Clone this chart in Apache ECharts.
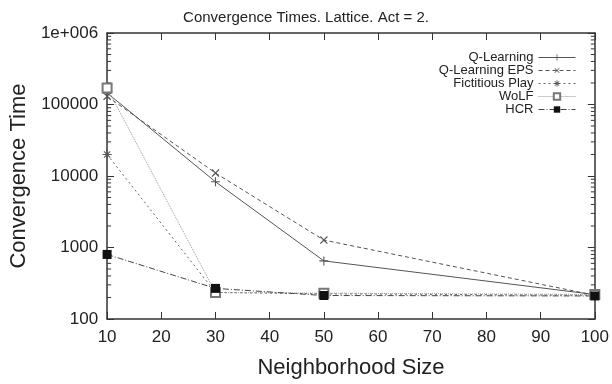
<!DOCTYPE html>
<html>
<head>
<meta charset="utf-8">
<script src="https://cdn.jsdelivr.net/npm/echarts@6/dist/echarts.min.js"></script>
<style>
html, body { margin: 0; padding: 0; background: #fff; }
#main { width: 612px; height: 384px; }
</style>
</head>
<body>
<div id="main"></div>
<script>
var neighborhood = [10, 30, 50, 100];
var qLearning = [145000, 8300, 650, 220];
var qLearningEps = [130000, 11000, 1270, 215];
var fictitiousPlay = [20000, 235, 225, 215];
var wolf = [170000, 235, 230, 220];
var hcr = [800, 268, 213, 210];
var seriesNames = ['Q-Learning', 'Q-Learning EPS', 'Fictitious Play', 'WoLF', 'HCR'];
// gnuplot style minor ticks on the log axis (2..9 per decade)
var decades = [100, 1000, 10000, 100000];
var minorSteps = [2, 3, 4, 5, 6, 7, 8, 9];

var minorTicks = [];
decades.forEach(function (d) {
    minorSteps.forEach(function (m) { minorTicks.push([10, d * m]); });
});

function pairs(vals) {
    return vals.map(function (v, i) { return [neighborhood[i], v]; });
}

var plusPath = 'path://M-0.6,-5H0.6V-0.6H5V0.6H0.6V5H-0.6V0.6H-5V-0.6H-0.6Z';
var starPath = 'path://M-0.6,-5H0.6V-0.6H5V0.6H0.6V5H-0.6V0.6H-5V-0.6H-0.6Z' +
    'M-3.9,-3.1L-3.1,-3.9L0,-0.8L3.1,-3.9L3.9,-3.1L0.8,0L3.9,3.1L3.1,3.9L0,0.8L-3.1,3.9L-3.9,3.1L-0.8,0Z';

var myChart = echarts.init(document.getElementById('main'));
var font = 'Liberation Sans, Arial, sans-serif';

var option = {
    backgroundColor: '#fff',
    animation: false,
    title: {
        text: 'Convergence Times. Lattice. Act = 2.',
        left: 'center',
        top: 5,
        textStyle: { fontFamily: font, fontSize: 15, fontWeight: 'normal', color: '#222' }
    },
    legend: {
        data: seriesNames,
        orient: 'vertical',
        right: 31,
        top: 46,
        align: 'right',
        itemWidth: 37,
        itemHeight: 8,
        itemGap: 0,
        lineStyle: { width: 1 },
        textStyle: { fontFamily: font, fontSize: 13, color: '#222' }
    },
    grid: { left: 106, right: 11, top: 33, bottom: 61 },
    xAxis: [{
        type: 'value',
        min: 10,
        max: 100,
        interval: 10,
        name: 'Neighborhood Size',
        nameLocation: 'middle',
        nameGap: 38,
        nameTextStyle: { fontFamily: font, fontSize: 22, color: '#222' },
        axisLine: { lineStyle: { color: '#333', width: 1.5 } },
        axisTick: { inside: true, length: 7, lineStyle: { color: '#333' } },
        axisLabel: { fontFamily: font, fontSize: 17, color: '#222', margin: 10 },
        splitLine: { show: false }
    }, {
        type: 'value',
        position: 'top',
        min: 10,
        max: 100,
        interval: 10,
        axisLine: { lineStyle: { color: '#333', width: 1.5 } },
        axisTick: { inside: true, length: 7, lineStyle: { color: '#333' } },
        axisLabel: { show: false },
        splitLine: { show: false }
    }],
    yAxis: [{
        type: 'log',
        logBase: 10,
        min: 100,
        max: 1000000,
        name: 'Convergence Time',
        nameLocation: 'middle',
        nameGap: 73,
        nameTextStyle: { fontFamily: font, fontSize: 22, color: '#222' },
        axisLine: { lineStyle: { color: '#333', width: 1.5 } },
        axisTick: { inside: true, length: 7, lineStyle: { color: '#333' } },
        axisLabel: {
            fontFamily: font, fontSize: 17, color: '#222', margin: 9,
            formatter: function (v) { return v >= 1000000 ? '1e+006' : String(Math.round(v)); }
        },
        splitLine: { show: false }
    }, {
        type: 'log',
        logBase: 10,
        position: 'right',
        min: 100,
        max: 1000000,
        axisLine: { lineStyle: { color: '#333', width: 1.5 } },
        axisTick: { inside: true, length: 7, lineStyle: { color: '#333' } },
        axisLabel: { show: false },
        splitLine: { show: false }
    }],
    series: [
        {
            name: 'Q-Learning',
            type: 'line',
            data: pairs(qLearning),
            symbol: plusPath,
            symbolSize: 9,
            itemStyle: { color: '#555' },
            lineStyle: { color: '#555', width: 1, type: 'solid' }
        },
        {
            name: 'Q-Learning EPS',
            type: 'line',
            data: pairs(qLearningEps),
            symbol: plusPath,
            symbolRotate: 45,
            symbolSize: 10,
            itemStyle: { color: '#555' },
            lineStyle: { color: '#555', width: 1, type: [4, 3] }
        },
        {
            name: 'Fictitious Play',
            type: 'line',
            data: pairs(fictitiousPlay),
            symbol: starPath,
            symbolSize: 9,
            itemStyle: { color: '#555' },
            lineStyle: { color: '#666', width: 1, type: [2, 3] }
        },
        {
            name: 'WoLF',
            type: 'line',
            data: pairs(wolf),
            symbol: 'emptyRect',
            symbolSize: 9,
            itemStyle: { color: '#777', borderWidth: 1 },
            lineStyle: { color: '#999', width: 1, type: [1, 1] }
        },
        {
            name: 'HCR',
            type: 'line',
            data: pairs(hcr),
            symbol: 'rect',
            symbolSize: 9,
            itemStyle: { color: '#111' },
            lineStyle: { color: '#444', width: 1, type: [6, 2, 1, 2] }
        },
        {
            name: 'minor',
            type: 'custom',
            silent: true,
            data: minorTicks,
            renderItem: function (params, api) {
                var v = api.value(1);
                var l = api.coord([10, v]);
                var r = api.coord([100, v]);
                return {
                    type: 'group',
                    children: [
                        { type: 'line', shape: { x1: l[0], y1: l[1], x2: l[0] + 4, y2: l[1] }, style: { stroke: '#333', lineWidth: 1 } },
                        { type: 'line', shape: { x1: r[0], y1: r[1], x2: r[0] - 4, y2: r[1] }, style: { stroke: '#333', lineWidth: 1 } }
                    ]
                };
            }
        }
    ]
};

if (option && typeof option === "object") {
    myChart.setOption(option, true);
}
</script>
</body>
</html>
